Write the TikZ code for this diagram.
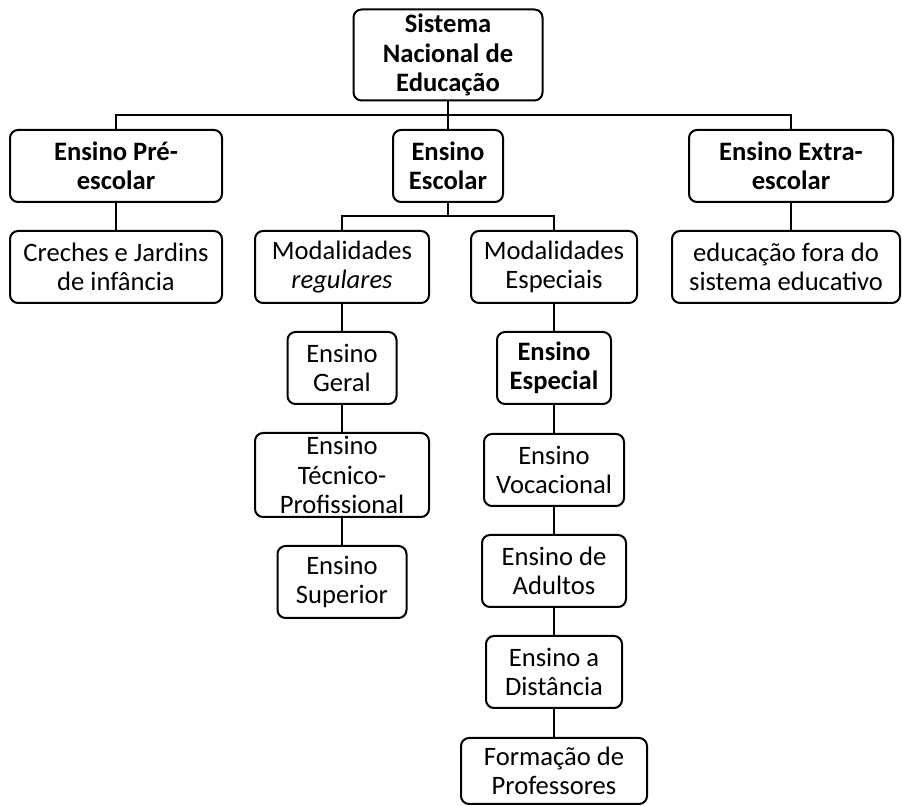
\documentclass[tikz,border=0pt]{standalone}
\usepackage{fontspec}
\setmainfont{Carlito}
\usepackage{tikz}

\begin{document}
\begin{tikzpicture}[x=0.5pt,y=-0.5pt,
    box/.style={draw, line width=1pt, rounded corners=4pt, align=center,
                inner xsep=2pt, inner ysep=0pt, minimum height=36pt,
                font=\fontsize{13.3}{14.6}\selectfont},
    link/.style={line width=1pt}]
             \useasboundingbox (0,0) rectangle (902,806);

             % top level
             \node[box, minimum width=94.5pt, minimum height=45.5pt] (root) at (448,55) {\textbf{Sistema}\\\textbf{Nacional de}\\\textbf{Educação}};
             \node[box, minimum width=106pt] (pre) at (116,166) {\textbf{Ensino Pré-}\\\textbf{escolar}};
             \node[box, minimum width=55pt] (escolar) at (448,166) {\textbf{Ensino}\\\textbf{Escolar}};
             \node[box, minimum width=102pt] (extra) at (791,166) {\textbf{Ensino Extra-}\\\textbf{escolar}};

             \node[box, minimum width=106pt] (creches) at (116,267) {Creches e Jardins\\de infância};
             \node[box, minimum width=114pt] (fora) at (786,267) {educação fora do\\sistema educativo};
             \node[box, minimum width=87pt] (modreg) at (342,267) {Modalidades\\\textit{regulares}};
             \node[box, minimum width=83pt] (modesp) at (554,267) {Modalidades\\Especiais};

             % regulares
             \node[box, minimum width=54.5pt] (geral) at (342,368) {Ensino\\Geral};
             \node[box, minimum width=87pt, minimum height=42pt] (tecnico) at (342,475) {Ensino\\Técnico-\\Profissional};
             \node[box, minimum width=64.5pt] (superior) at (342,582) {Ensino\\Superior};

             % especiais
             \node[box, minimum width=57pt] (especial) at (554,368) {\textbf{Ensino}\\\textbf{Especial}};
             \node[box, minimum width=70pt] (vocacional) at (554,470) {Ensino\\Vocacional};
             \node[box, minimum width=72pt] (adultos) at (554,571) {Ensino de\\Adultos};
             \node[box, minimum width=68pt] (distancia) at (554,672) {Ensino a\\Distância};
             \node[box, minimum width=93pt, minimum height=33pt] (formacao) at (554,771) {Formação de\\Professores};

             \coordinate (bus) at (448,115);
             \coordinate (subbus) at (448,216);

             \draw[link] (root.south) -- (bus);
             \draw[link] (pre.north) |- (bus) -| (extra.north);
             \draw[link] (escolar.north) -- (bus);
             \draw[link] (pre) -- (creches);
             \draw[link] (extra.south) -- (extra.south |- fora.north);
             \draw[link] (escolar.south) -- (subbus);
             \draw[link] (modreg.north) |- (subbus) -| (modesp.north);

             \draw[link] (modreg) -- (geral);
             \draw[link] (geral) -- (tecnico);
             \draw[link] (tecnico) -- (superior);
             \draw[link] (modesp) -- (especial);
             \draw[link] (especial) -- (vocacional);
             \draw[link] (vocacional) -- (adultos);
             \draw[link] (adultos) -- (distancia);
             \draw[link] (distancia) -- (formacao);
             \end{tikzpicture}
\end{document}
